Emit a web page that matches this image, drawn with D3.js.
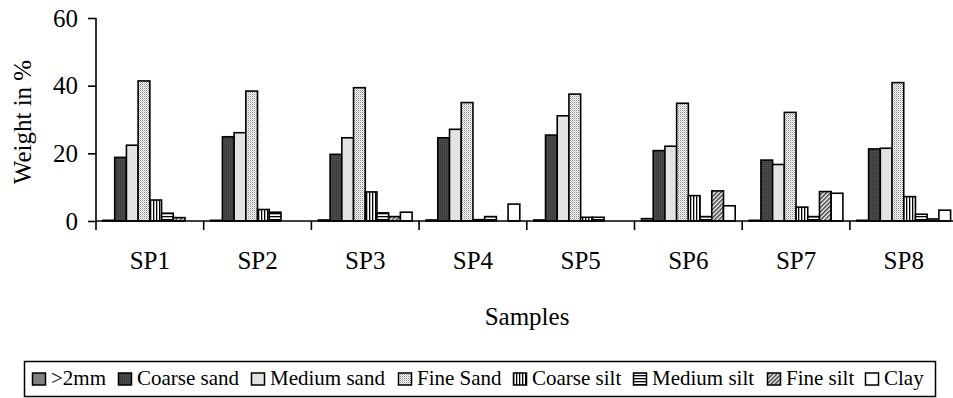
<!DOCTYPE html>
<html><head><meta charset="utf-8">
<script src="https://cdn.jsdelivr.net/npm/d3@7"></script>
<style>html,body{margin:0;padding:0;background:#fff;overflow:hidden}
svg text{font-family:"Times New Roman", Times, "Liberation Serif", Tinos, serif;}</style>
</head><body>
<svg id="c" width="953" height="398"></svg>
<script>
const categories = ["SP1","SP2","SP3","SP4","SP5","SP6","SP7","SP8"];
const seriesNames = [">2mm","Coarse sand","Medium sand","Fine Sand","Coarse silt","Medium silt","Fine silt","Clay"];
const gt2mm      = [0.2, 0.2, 0.3, 0.3, 0.3, 0.7, 0.2, 0.2];
const coarseSand = [18.8, 24.9, 19.7, 24.6, 25.4, 20.8, 18.0, 21.3];
const mediumSand = [22.4, 26.1, 24.6, 27.1, 31.1, 22.1, 16.7, 21.5];
const fineSand   = [41.4, 38.4, 39.4, 35.0, 37.5, 34.8, 32.1, 40.9];
const coarseSilt = [6.2, 3.4, 8.6, 0.4, 1.1, 7.5, 4.1, 7.2];
const mediumSilt = [2.3, 2.6, 2.4, 1.3, 1.1, 1.3, 1.3, 2.0];
const fineSilt   = [1.0, 0, 1.3, 0, 0, 8.9, 8.7, 0.6];
const clay       = [0, 0, 2.6, 5.0, 0, 4.5, 8.2, 3.2];
const yTicks = [0, 20, 40, 60];

const seriesValues = [gt2mm, coarseSand, mediumSand, fineSand, coarseSilt, mediumSilt, fineSilt, clay];

(function () {
const svg = d3.select("#c");

// patterns
const defs = svg.append("defs");
function pat(id, w, h, build) {
  const p = defs.append("pattern").attr("id", id).attr("patternUnits", "userSpaceOnUse")
    .attr("width", w).attr("height", h);
  build(p);
}
pat("pDark", 2, 2, p => {
  p.append("rect").attr("width", 2).attr("height", 2).attr("fill", "#4a4a4a");
  p.append("rect").attr("width", 1).attr("height", 1).attr("fill", "#333");
});
pat("pDots", 2, 2, p => {
  p.append("rect").attr("width", 2).attr("height", 2).attr("fill", "#fff");
  p.append("rect").attr("width", 1).attr("height", 1).attr("fill", "#8a8a8a");
  p.append("rect").attr("x", 1).attr("y", 1).attr("width", 1).attr("height", 1).attr("fill", "#c8c8c8");
});
pat("pVert", 3, 3, p => {
  p.append("rect").attr("width", 3).attr("height", 3).attr("fill", "#fff");
  p.append("rect").attr("width", 1.3).attr("height", 3).attr("fill", "#000");
});
pat("pHorz", 3, 3, p => {
  p.append("rect").attr("width", 3).attr("height", 3).attr("fill", "#fff");
  p.append("rect").attr("width", 3).attr("height", 1.3).attr("fill", "#000");
});
pat("pDiag", 3, 3, p => {
  p.attr("patternTransform", "rotate(45)");
  p.append("rect").attr("width", 3).attr("height", 3).attr("fill", "#fff");
  p.append("rect").attr("width", 1.6).attr("height", 3).attr("fill", "#444");
});
const fills = ["#808080", "url(#pDark)", "#e3e3e3", "url(#pDots)", "url(#pVert)", "url(#pHorz)", "url(#pDiag)", "#ffffff"];

// scales
const pLeft = 96, bandW = 107.7, pTop = 18, pBottom = 221;
const x = d3.scaleBand().domain(categories).range([pLeft, pLeft + bandW * categories.length]).paddingInner(0).paddingOuter(0);
const xs = d3.scaleBand().domain(seriesNames).range([7, bandW - 7]).padding(0);
const y = d3.scaleLinear().domain([0, 60]).range([pBottom, pTop]);

// bars
const g = svg.append("g");
seriesNames.forEach((s, si) => {
  g.selectAll(null).data(categories.map((c, ci) => ({c, v: seriesValues[si][ci]})).filter(d => d.v > 0))
    .enter().append("rect")
    .attr("x", d => x(d.c) + xs(s))
    .attr("y", d => y(d.v))
    .attr("width", xs.bandwidth())
    .attr("height", d => pBottom - y(d.v))
    .attr("fill", fills[si])
    .attr("stroke", "#000").attr("stroke-width", 1.6);
});

// y axis
const ya = svg.append("g").attr("transform", `translate(${pLeft},0)`)
  .call(d3.axisLeft(y).tickValues(yTicks).tickSize(8).tickPadding(10).tickFormat(d3.format("d")));
ya.attr("font-family", null);
ya.select(".domain").attr("d", `M0,${pTop}V${pBottom}`).attr("stroke", "#000").attr("stroke-width", 1.6);
ya.selectAll(".tick line").attr("stroke", "#000").attr("stroke-width", 1.6);
ya.selectAll("text").attr("font-size", 25).attr("fill", "#000");

// x axis
const xa = svg.append("g").attr("transform", `translate(0,${pBottom})`)
  .call(d3.axisBottom(x).tickSize(0).tickPadding(30));
xa.attr("font-family", null);
xa.select(".domain").attr("d", `M${pLeft},0H${pLeft + bandW * categories.length}`).attr("stroke", "#000").attr("stroke-width", 1.6);
xa.selectAll("text").attr("font-size", 25).attr("fill", "#000");
xa.selectAll(null).data(categories).enter().append("line")
  .attr("x1", d => x(d)).attr("x2", d => x(d)).attr("y1", 0).attr("y2", 9)
  .attr("stroke", "#000").attr("stroke-width", 1.6);

// titles
svg.append("text").attr("x", 527).attr("y", 325).attr("text-anchor", "middle")
  .attr("font-size", 25).text("Samples");
svg.append("text").attr("transform", "translate(31,122) rotate(-90)").attr("text-anchor", "middle")
  .attr("font-size", 25).text("Weight in %");

// legend
const lg = svg.append("g");
lg.append("rect").attr("x", 24.5).attr("y", 361.5).attr("width", 911).attr("height", 35)
  .attr("fill", "#fff").attr("stroke", "#000").attr("stroke-width", 1.5);
const legendX = [32, 118, 251, 398, 513, 633, 767, 865];
seriesNames.forEach((s, i) => {
  lg.append("rect").attr("x", legendX[i] + 0.5).attr("y", 373).attr("width", 13).attr("height", 12)
    .attr("fill", fills[i]).attr("stroke", "#000").attr("stroke-width", 1.5);
  lg.append("text").attr("x", legendX[i] + 19).attr("y", 385)
    .attr("font-size", 21).attr("fill", "#000").text(s);
});
})();
</script>
</body></html>
